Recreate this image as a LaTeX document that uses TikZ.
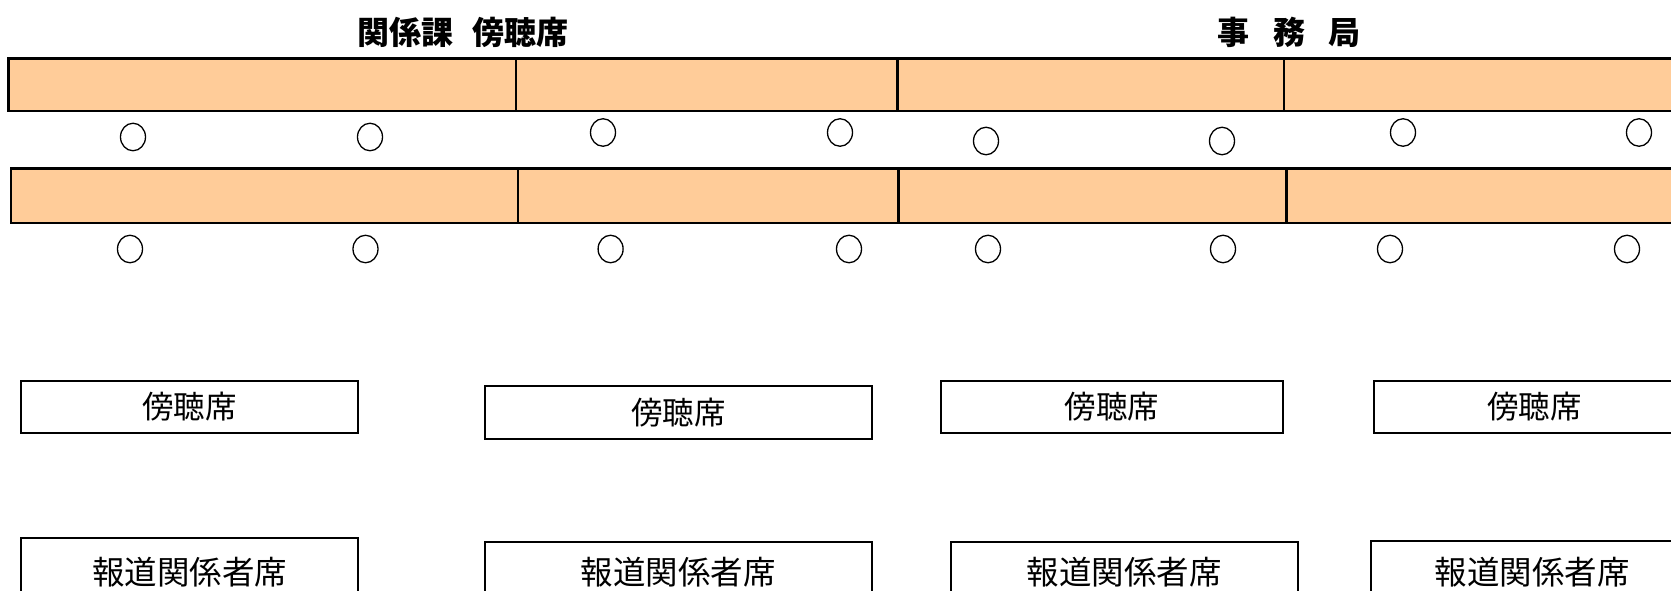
\documentclass[tikz,border=0pt]{standalone}
\usepackage{fontspec}
\newfontfamily\jpfont{Noto Sans CJK JP}
\usetikzlibrary{shapes.geometric}
\definecolor{deskfill}{RGB}{255,204,153}

\tikzset{
  desk/.style={draw, fill=deskfill, line width=2.4pt},
  chair/.style={draw, ellipse, line width=1.3pt, minimum width=25pt, minimum height=27.5pt, inner sep=0pt},
  seatbox/.style={draw, line width=2pt, inner sep=0pt, font=\jpfont\fontsize{31.5}{36}\selectfont},
  pressbox/.style={seatbox, font=\jpfont\fontsize{32.5}{36}\selectfont},
  title/.style={inner sep=0pt, font=\jpfont\bfseries\fontsize{32}{36}\selectfont}
}

\begin{document}
\begin{tikzpicture}[x=1pt,y=-1pt]

\useasboundingbox (0,0) rectangle (1671,591);
\clip (0,0) rectangle (1671,591);

% titles
\node[title] (kankei) at (463,32) {関係課\hspace{0.6em}傍聴席};
\node[title] (jimu) at (1289,32) {事\hspace{0.72em}務\hspace{0.72em}局};

% desks
\foreach \a/\b in {8.5/515.8, 515.8/897.3, 897.3/1284.2, 1284.2/1700}
  \draw[desk] (\a,58.6) rectangle (\b,110.8);
\foreach \a/\b in {10.7/518, 518/898.4, 898.4/1286.3, 1286.3/1700}
  \draw[desk] (\a,168.4) rectangle (\b,222.7);

% chairs
\foreach \x/\y [count=\i] in {133/137, 370/137, 603/132.5, 840/132.5, 986/141, 1222/141, 1403/132.5, 1639/132.5}
  \node[chair] (c1\i) at (\x,\y) {};
\foreach \x [count=\i] in {130, 365.5, 610.6, 849, 988, 1223, 1390, 1627}
  \node[chair] (c2\i) at (\x,249) {};

% seats
\node[seatbox, minimum width=336.7pt, minimum height=52.2pt] (pub1) at (189.7,406.6) {傍聴席};
\node[seatbox, minimum width=386.7pt, minimum height=53pt] (pub2) at (678.3,412.4) {傍聴席};
\node[seatbox, minimum width=342pt, minimum height=52.2pt] (pub3) at (1112,406.6) {傍聴席};
\node[seatbox, minimum width=322pt, minimum height=52.2pt] (pub4) at (1534.7,406.6) {傍聴席};

\node[pressbox, minimum width=336.7pt, minimum height=68pt] (press1) at (189.7,572) {報道関係者席};
\node[pressbox, minimum width=386.7pt, minimum height=60pt] (press2) at (678.3,572) {報道関係者席};
\node[pressbox, minimum width=347.4pt, minimum height=60pt] (press3) at (1124.3,572) {報道関係者席};
\node[pressbox, minimum width=323pt, minimum height=62pt] (press4) at (1532,572) {報道関係者席};

\end{tikzpicture}
\end{document}
